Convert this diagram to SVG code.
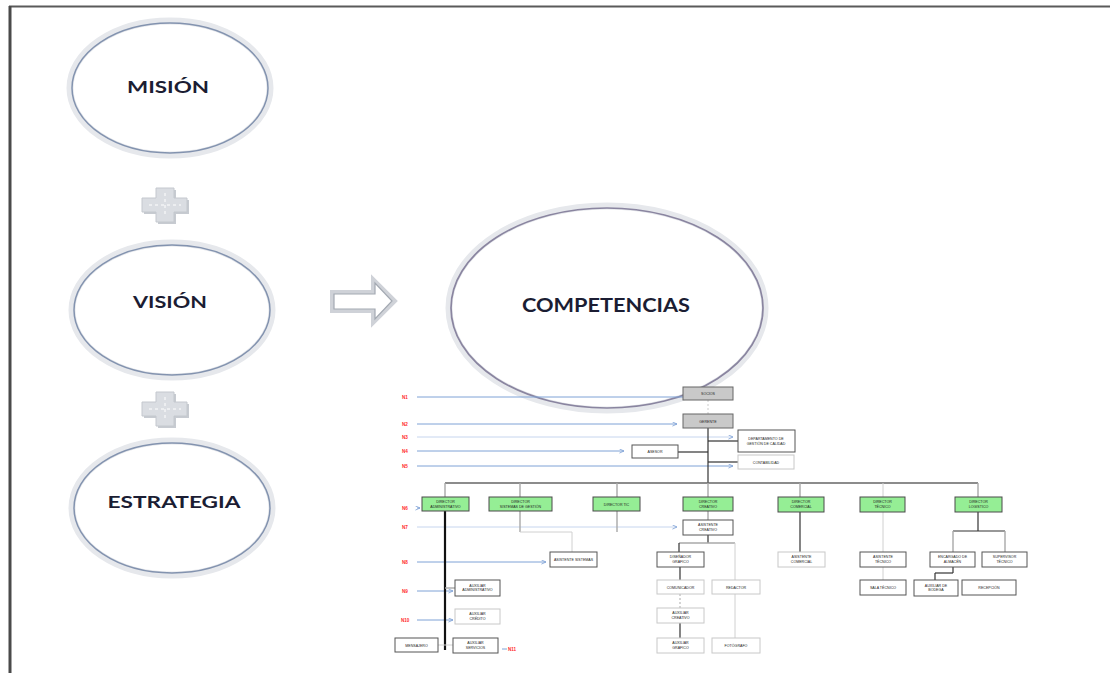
<svg xmlns="http://www.w3.org/2000/svg" width="1110" height="673" viewBox="0 0 1110 673">
  <defs>
    <style>
      .halo { fill: #ffffff; stroke: #e6e8ec; stroke-width: 7; }
      .ring { fill: none; stroke: #8393af; stroke-width: 1.5; }
      .ring2 { fill: none; stroke: #8a85a0; stroke-width: 1.7; }
      .big { font-family: "Lato", "Liberation Sans", sans-serif; font-weight: bold; fill: #1b1d33; text-anchor: middle; }
      .red { font-family: "Liberation Sans", sans-serif; font-size: 4.6px; font-weight: bold; fill: #ff2a2a; }
      .lbl { font-family: "Liberation Sans", sans-serif; font-size: 3.6px; fill: #222; text-anchor: middle; }
      .link { stroke: #7fa2d6; stroke-width: 1; fill: none; }
      .faint { stroke: #c6d5ee; stroke-width: 1; fill: none; }
      .tree { stroke: #333; stroke-width: 1.2; fill: none; }
      .thick { stroke: #111; stroke-width: 2.2; fill: none; }
      .grey { stroke: #a8a8a8; stroke-width: 1.4; fill: none; }
      .light { stroke: #d0d0d0; stroke-width: 1; fill: none; }
      .box { fill: #ffffff; stroke: #555; stroke-width: 1; }
      .boxl { fill: #ffffff; stroke: #c8c8c8; stroke-width: 1; }
      .grey-box { fill: #c9c9c9; stroke: #666; stroke-width: 1; }
      .green { fill: #95ee95; stroke: #4a4a4a; stroke-width: 1; }
      .plus { fill: #dadde2; stroke: #c4c8ce; stroke-width: 1; }
    </style>
    <marker id="ah" viewBox="0 0 6 6" refX="5.5" refY="3" markerWidth="5" markerHeight="5" orient="auto">
      <path d="M0,0.5 L5.5,3 L0,5.5" fill="none" stroke="#7fa2d6" stroke-width="1"/>
    </marker>
  </defs>

  <rect width="1110" height="673" fill="#ffffff"/>

  <!-- page frame -->
  <g id="frame">
    <line x1="9" y1="6.5" x2="1110" y2="6.5" stroke="#5a5a5a" stroke-width="2"/>
    <line x1="10" y1="6" x2="10" y2="673" stroke="#4a4a4a" stroke-width="3"/>
  </g>

  <!-- concept ellipses -->
  <g id="mision">
    <ellipse class="halo" cx="170" cy="88" rx="100" ry="67"/>
    <ellipse class="ring" cx="170" cy="88" rx="98" ry="65"/>
    <text class="big" x="168" y="93" font-size="17" textLength="82" lengthAdjust="spacingAndGlyphs">MISIÓN</text>
  </g>
  <g id="vision">
    <ellipse class="halo" cx="172" cy="310" rx="100" ry="67"/>
    <ellipse class="ring" cx="172" cy="310" rx="98" ry="65"/>
    <text class="big" x="170" y="308" font-size="17" textLength="74" lengthAdjust="spacingAndGlyphs">VISIÓN</text>
  </g>
  <g id="estrategia">
    <ellipse class="halo" cx="172" cy="508" rx="100" ry="67"/>
    <ellipse class="ring" cx="172" cy="508" rx="98" ry="65"/>
    <text class="big" x="174" y="508" font-size="17" textLength="133" lengthAdjust="spacingAndGlyphs">ESTRATEGIA</text>
  </g>
  <g id="competencias">
    <ellipse class="halo" cx="607" cy="308" rx="158" ry="102"/>
    <ellipse class="ring2" cx="607" cy="308" rx="156" ry="100"/>
    <text class="big" x="606" y="312" font-size="18" textLength="168" lengthAdjust="spacingAndGlyphs">COMPETENCIAS</text>
  </g>

  <!-- plus signs -->
  <g id="plus1">
    <path d="M158,190 H176 V200 H189 V214 H176 V224 H158 V214 H144 V200 H158 Z" fill="#c7cbd1"/>
    <path class="plus" d="M156,188 H174 V198 H187 V212 H174 V222 H156 V212 H142 V198 H156 Z"/>
    <path d="M149,205 H181 M165,193 V217" stroke="#ffffff" stroke-width="1" stroke-dasharray="3,3"/>
  </g>
  <g id="plus2">
    <path d="M158,394 H176 V404 H189 V418 H176 V428 H158 V418 H144 V404 H158 Z" fill="#c7cbd1"/>
    <path class="plus" d="M156,392 H174 V402 H187 V416 H174 V426 H156 V416 H142 V402 H156 Z"/>
    <path d="M149,409 H181 M165,397 V421" stroke="#ffffff" stroke-width="1" stroke-dasharray="3,3"/>
  </g>

  <!-- outline arrow -->
  <g id="arrow">
    <path d="M332,292 H373 V279 L395,301 L373,323 V311 H332 Z" fill="#ffffff" stroke="#cfd2d8" stroke-width="4" stroke-linejoin="miter"/>
    <path d="M334,294 H375 V283 L392,301 L375,319 V309 H334 Z" fill="#ffffff" stroke="#a3a9b2" stroke-width="1.2"/>
  </g>

  <!-- organisation chart -->
  <g id="org-levels">
    <text class="red" x="402" y="399">N1</text>
    <text class="red" x="402" y="426">N2</text>
    <text class="red" x="402" y="439">N3</text>
    <text class="red" x="402" y="453">N4</text>
    <text class="red" x="402" y="468">N5</text>
    <text class="red" x="402" y="510">N6</text>
    <text class="red" x="402" y="529">N7</text>
    <text class="red" x="402" y="564">N8</text>
    <text class="red" x="402" y="593">N9</text>
    <text class="red" x="401" y="622">N10</text>
    <text class="red" x="508" y="651">N11</text>
  </g>

  <g id="connectors">
    <!-- level pointers -->
    <line class="link" x1="417" y1="397" x2="683" y2="397"/>
    <line class="link" x1="417" y1="424" x2="677" y2="424" marker-end="url(#ah)"/>
    <line class="faint" x1="417" y1="437" x2="733" y2="437" marker-end="url(#ah)"/>
    <line class="link" x1="417" y1="451" x2="624" y2="451" marker-end="url(#ah)"/>
    <line class="link" x1="417" y1="466" x2="733" y2="466" marker-end="url(#ah)"/>
    <line class="link" x1="417" y1="508" x2="420" y2="508" marker-end="url(#ah)"/>
    <line class="faint" x1="417" y1="527" x2="677" y2="527" marker-end="url(#ah)"/>
    <line class="link" x1="417" y1="562" x2="546" y2="562" marker-end="url(#ah)"/>
    <line class="link" x1="417" y1="591" x2="453" y2="591" marker-end="url(#ah)"/>
    <line class="link" x1="417" y1="620" x2="453" y2="620" marker-end="url(#ah)"/>
    <line class="link" x1="502" y1="649" x2="507" y2="649"/>

    <!-- top of the tree -->
    <line x1="708" y1="400" x2="708" y2="414" stroke="#ccc" stroke-width="1" stroke-dasharray="2,2"/>
    <line class="tree" x1="708" y1="428" x2="708" y2="483"/>
    <line class="tree" x1="708" y1="441" x2="738" y2="441"/>
    <line class="tree" x1="678" y1="452" x2="708" y2="452"/>
    <line class="tree" x1="708" y1="462" x2="738" y2="462"/>
    <line x1="445" y1="483" x2="978" y2="483" stroke="#666" stroke-width="1.4"/>

    <!-- drops to the directors -->
    <line class="grey" x1="445" y1="483" x2="445" y2="497"/>
    <line class="grey" x1="520" y1="483" x2="520" y2="497"/>
    <line class="grey" x1="617" y1="483" x2="617" y2="497"/>
    <line class="grey" x1="708" y1="483" x2="708" y2="497"/>
    <line class="grey" x1="800" y1="483" x2="800" y2="497"/>
    <line class="light" x1="883" y1="483" x2="883" y2="497"/>
    <line class="grey" x1="978" y1="483" x2="978" y2="497"/>

    <!-- administration column -->
    <line class="thick" x1="445" y1="511" x2="445" y2="650"/>
    <line class="grey" x1="445" y1="588" x2="455" y2="588"/>
    <line class="light" x1="438" y1="645" x2="453" y2="645"/>

    <!-- second and third directors -->
    <line class="grey" x1="520" y1="511" x2="520" y2="532"/>
    <line class="light" x1="520" y1="532" x2="572" y2="532"/>
    <line class="light" x1="572" y1="532" x2="572" y2="552"/>
    <line class="grey" x1="617" y1="511" x2="617" y2="532"/>

    <!-- creative column -->
    <line class="grey" x1="708" y1="511" x2="708" y2="520"/>
    <line class="tree" x1="708" y1="535" x2="708" y2="543"/>
    <line class="grey" x1="679" y1="543" x2="735" y2="543"/>
    <line class="tree" x1="679" y1="543" x2="679" y2="552"/>
    <line class="light" x1="735" y1="543" x2="735" y2="638"/>
    <line class="tree" x1="680" y1="567" x2="680" y2="580"/>
    <line x1="680" y1="594" x2="680" y2="608" stroke="#aaa" stroke-width="1" stroke-dasharray="2,2"/>
    <line class="tree" x1="680" y1="623" x2="680" y2="638"/>

    <!-- commercial and technical -->
    <line class="tree" x1="800" y1="512" x2="800" y2="552"/>
    <line class="light" x1="883" y1="512" x2="883" y2="580"/>

    <!-- logistics column -->
    <line class="tree" x1="978" y1="512" x2="978" y2="531"/>
    <line class="tree" x1="953" y1="531" x2="1005" y2="531"/>
    <line class="grey" x1="953" y1="531" x2="953" y2="552"/>
    <line class="grey" x1="1005" y1="531" x2="1005" y2="552"/>
    <line class="tree" x1="953" y1="567" x2="953" y2="573"/>
    <line class="tree" x1="935" y1="573" x2="953" y2="573"/>
    <line class="tree" x1="935" y1="573" x2="935" y2="580"/>
  </g>

  <g id="socios">
    <rect class="grey-box" x="683" y="387" width="50" height="13"/>
    <text class="lbl" x="708" y="395">SOCIOS</text>
  </g>
  <g id="gerente">
    <rect class="grey-box" x="683" y="414" width="50" height="14"/>
    <text class="lbl" x="708" y="422.5">GERENTE</text>
  </g>
  <g id="calidad">
    <rect class="box" x="738" y="430" width="57" height="22"/>
    <text class="lbl" x="766" y="440">DEPARTAMENTO DE</text>
    <text class="lbl" x="766" y="445">GESTIÓN DE CALIDAD</text>
  </g>
  <g id="asesor">
    <rect class="box" x="632" y="445" width="46" height="13"/>
    <text class="lbl" x="655" y="453">ASESOR</text>
  </g>
  <g id="contabilidad">
    <rect class="boxl" x="738" y="455" width="56" height="14"/>
    <text class="lbl" x="766" y="463.5">CONTABILIDAD</text>
  </g>

  <g id="dir-administrativo">
    <rect class="green" x="422" y="497" width="47" height="14"/>
    <text class="lbl" x="445.5" y="503">DIRECTOR</text>
    <text class="lbl" x="445.5" y="507.5">ADMINISTRATIVO</text>
  </g>
  <g id="dir-sistemas">
    <rect class="green" x="489" y="497" width="63" height="14"/>
    <text class="lbl" x="520.5" y="503">DIRECTOR</text>
    <text class="lbl" x="520.5" y="507.5">SISTEMAS DE GESTIÓN</text>
  </g>
  <g id="dir-tic">
    <rect class="green" x="593" y="497" width="47" height="14"/>
    <text class="lbl" x="616.5" y="505.5">DIRECTOR TIC</text>
  </g>
  <g id="dir-creativo">
    <rect class="green" x="683" y="497" width="50" height="14"/>
    <text class="lbl" x="708" y="503">DIRECTOR</text>
    <text class="lbl" x="708" y="507.5">CREATIVO</text>
  </g>
  <g id="dir-comercial">
    <rect class="green" x="778" y="497" width="46" height="15"/>
    <text class="lbl" x="801" y="503">DIRECTOR</text>
    <text class="lbl" x="801" y="507.5">COMERCIAL</text>
  </g>
  <g id="dir-tecnico">
    <rect class="green" x="860" y="497" width="45" height="15"/>
    <text class="lbl" x="882.5" y="503">DIRECTOR</text>
    <text class="lbl" x="882.5" y="507.5">TÉCNICO</text>
  </g>
  <g id="dir-logistico">
    <rect class="green" x="955" y="497" width="47" height="15"/>
    <text class="lbl" x="978.5" y="503">DIRECTOR</text>
    <text class="lbl" x="978.5" y="507.5">LOGÍSTICO</text>
  </g>

  <g id="asistente-creativo">
    <rect class="box" x="683" y="520" width="50" height="15"/>
    <text class="lbl" x="708" y="526">ASISTENTE</text>
    <text class="lbl" x="708" y="530.5">CREATIVO</text>
  </g>
  <g id="asistente-sistemas">
    <rect class="box" x="550" y="552" width="47" height="15"/>
    <text class="lbl" x="573.5" y="561">ASISTENTE SISTEMAS</text>
  </g>
  <g id="disenador">
    <rect class="box" x="657" y="552" width="47" height="15"/>
    <text class="lbl" x="680.5" y="558">DISEÑADOR</text>
    <text class="lbl" x="680.5" y="562.5">GRÁFICO</text>
  </g>
  <g id="comunicador">
    <rect class="boxl" x="657" y="580" width="47" height="14"/>
    <text class="lbl" x="680.5" y="588.5">COMUNICADOR</text>
  </g>
  <g id="redactor">
    <rect class="boxl" x="712" y="580" width="48" height="14"/>
    <text class="lbl" x="736" y="588.5">REDACTOR</text>
  </g>
  <g id="auxiliar-creativo">
    <rect class="boxl" x="657" y="608" width="47" height="15"/>
    <text class="lbl" x="680.5" y="614">AUXILIAR</text>
    <text class="lbl" x="680.5" y="618.5">CREATIVO</text>
  </g>
  <g id="auxiliar-grafico">
    <rect class="boxl" x="657" y="638" width="47" height="15"/>
    <text class="lbl" x="680.5" y="644">AUXILIAR</text>
    <text class="lbl" x="680.5" y="648.5">GRÁFICO</text>
  </g>
  <g id="fotografo">
    <rect class="boxl" x="712" y="638" width="48" height="15"/>
    <text class="lbl" x="736" y="647">FOTÓGRAFO</text>
  </g>

  <g id="auxiliar-admin">
    <rect class="box" x="455" y="580" width="45" height="16"/>
    <text class="lbl" x="477.5" y="586.5">AUXILIAR</text>
    <text class="lbl" x="477.5" y="591">ADMINISTRATIVO</text>
  </g>
  <g id="auxiliar-credito">
    <rect class="boxl" x="455" y="609" width="45" height="15"/>
    <text class="lbl" x="477.5" y="615">AUXILIAR</text>
    <text class="lbl" x="477.5" y="619.5">CRÉDITO</text>
  </g>
  <g id="auxiliar-servicios">
    <rect class="box" x="453" y="638" width="45" height="15"/>
    <text class="lbl" x="475.5" y="644">AUXILIAR</text>
    <text class="lbl" x="475.5" y="648.5">SERVICIOS</text>
  </g>
  <g id="mensajero">
    <rect class="box" x="395" y="638" width="43" height="14"/>
    <text class="lbl" x="416.5" y="646.5">MENSAJERO</text>
  </g>

  <g id="asistente-comercial">
    <rect class="boxl" x="778" y="552" width="47" height="15"/>
    <text class="lbl" x="801.5" y="558">ASISTENTE</text>
    <text class="lbl" x="801.5" y="562.5">COMERCIAL</text>
  </g>
  <g id="asistente-tecnico">
    <rect class="box" x="860" y="552" width="46" height="15"/>
    <text class="lbl" x="883" y="558">ASISTENTE</text>
    <text class="lbl" x="883" y="562.5">TÉCNICO</text>
  </g>
  <g id="sala-tecnico">
    <rect class="box" x="860" y="580" width="46" height="15"/>
    <text class="lbl" x="883" y="589">SALA TÉCNICO</text>
  </g>
  <g id="encargado-almacen">
    <rect class="box" x="930" y="552" width="45" height="15"/>
    <text class="lbl" x="952.5" y="558">ENCARGADO DE</text>
    <text class="lbl" x="952.5" y="562.5">ALMACÉN</text>
  </g>
  <g id="supervisor">
    <rect class="box" x="982" y="552" width="45" height="15"/>
    <text class="lbl" x="1004.5" y="558">SUPERVISOR</text>
    <text class="lbl" x="1004.5" y="562.5">TÉCNICO</text>
  </g>
  <g id="auxiliar-bodega">
    <rect class="box" x="914" y="580" width="44" height="16"/>
    <text class="lbl" x="936" y="586.5">AUXILIAR DE</text>
    <text class="lbl" x="936" y="591">BODEGA</text>
  </g>
  <g id="recepcion">
    <rect class="box" x="962" y="580" width="54" height="15"/>
    <text class="lbl" x="989" y="589">RECEPCIÓN</text>
  </g>
</svg>
